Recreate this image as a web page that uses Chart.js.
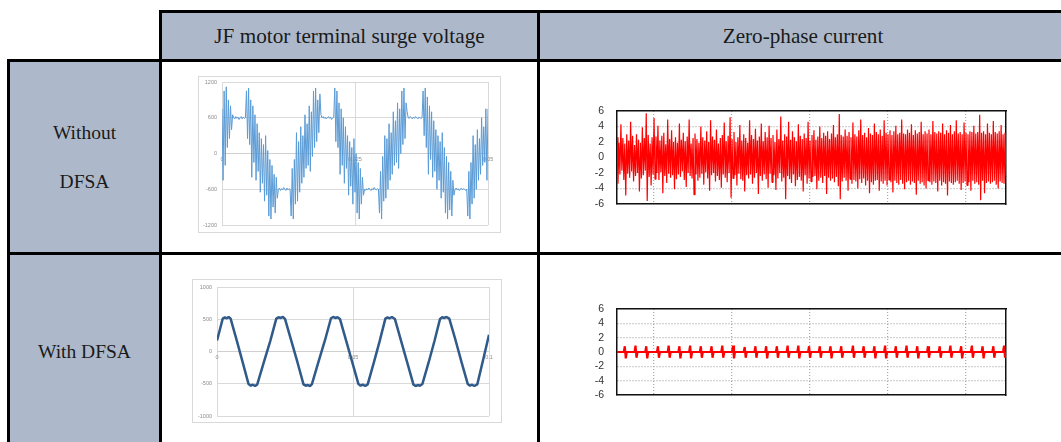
<!DOCTYPE html>
<html><head><meta charset="utf-8">
<script src="https://cdn.jsdelivr.net/npm/chart.js@4.4.0/dist/chart.umd.min.js"></script>
<style>
html,body{margin:0;padding:0;background:#fff;width:1061px;height:442px;overflow:hidden;position:relative;}
.cell{position:absolute;background:#adb9ca;}
.ln{position:absolute;background:#000;}
.txt{position:absolute;font-family:"Liberation Serif","Times New Roman",serif;color:#1a1a1a;text-align:center;white-space:nowrap;}
.frame{position:absolute;border:1px solid #d9d9d9;box-sizing:border-box;}
canvas{position:absolute;}
</style></head><body>
<div class="cell" style="left:160px;top:11px;width:906px;height:49px"></div>
<div class="cell" style="left:8px;top:60px;width:152px;height:400px"></div>
<div class="ln" style="left:159px;top:10px;width:907px;height:3px"></div>
<div class="ln" style="left:7px;top:59px;width:1059px;height:3px"></div>
<div class="ln" style="left:7px;top:252px;width:1059px;height:3px"></div>
<div class="ln" style="left:7px;top:59px;width:3px;height:400px"></div>
<div class="ln" style="left:159px;top:10px;width:3px;height:450px"></div>
<div class="ln" style="left:537px;top:10px;width:3px;height:450px"></div>

<div class="txt" style="left:162px;width:375px;top:23px;font-size:21.2px;line-height:26px">JF motor terminal surge voltage</div>
<div class="txt" style="left:540px;width:526px;top:23px;font-size:21.2px;line-height:26px">Zero-phase current</div>
<div class="txt" style="left:10px;width:149px;top:120px;font-size:19.5px;line-height:26px">Without</div>
<div class="txt" style="left:10px;width:149px;top:169px;font-size:19.5px;line-height:26px">DFSA</div>
<div class="txt" style="left:10px;width:149px;top:339px;font-size:19.5px;line-height:26px">With DFSA</div>

<div class="frame" style="left:198px;top:76px;width:303px;height:157px"></div>
<canvas id="cA" width="302" height="156" style="left:198px;top:76px"></canvas>
<canvas id="cD" width="422" height="106" style="left:590px;top:104px"></canvas>
<div class="frame" style="left:192px;top:279px;width:310px;height:144px"></div>
<canvas id="cC" width="309" height="143" style="left:192px;top:279px"></canvas>
<canvas id="cE" width="422" height="99" style="left:590px;top:302px"></canvas>

<script>
// ---------- Data ----------
// Surge voltage without DFSA (V), sampled every 0.2 ms from 0 to 0.05 s
const surgeStepS = 0.0002;
const surgeVolts = [
  750,-450,1050,-200,1120,100,900,250,800,400,650,
  600,580,620,590,610,570,600,620,580,610,590,600,
  1050,250,1100,150,900,-400,800,-150,650,-450,500,-300,350,-650,250,-500,150,-800,300,-700,50,-1050,-100,-1100,-200,-900,-350,-1000,-400,-750,
  -600,-580,-620,-590,-610,-570,-600,-620,-580,-610,-590,-600,
  -1050,-250,-1100,-100,-850,350,-800,200,-650,450,-500,300,-400,650,-250,500,-200,800,-300,700,-50,1050,100,1100,200,900,350,1000,650,
  600,620,590,610,580,600,620,590,610,570,600,610,
  1100,200,1050,100,850,-350,750,-200,600,-500,450,-250,300,-700,200,-550,100,-850,250,-650,0,-1000,-150,-1100,-250,-850,-400,-700,
  -600,-620,-590,-610,-580,-600,-620,-590,-610,-570,-600,-610,-590,-600,
  -1000,-300,-1100,-50,-800,300,-750,250,-600,500,-450,350,-350,700,-200,550,-150,850,-250,750,0,1050,150,1100,250,850,700,
  600,590,620,600,580,610,590,620,600,580,610,600,590,600,
  1050,300,1100,100,950,-350,800,-100,700,-400,550,-300,400,-600,300,-450,200,-750,350,-650,100,-1000,-50,-1100,-150,-950,-300,-1050,-450,-700,
  -600,-580,-610,-590,-620,-600,-580,-610,-590,-600,-620,-600,
  -1050,-300,-1100,-150,-850,300,-750,150,-600,400,-450,250,-350,600,-200,450,-150,750,-450,750
];

// Surge voltage with DFSA (V): time (s) / voltage pairs
const dfsaTimes = [
  0,0.0010,0.0021,0.0029,0.0036,0.0043,0.0050,
  0.0072,0.0094,0.0116,0.0124,0.0132,0.0140,0.0148,
  0.0172,0.0196,0.0218,0.0226,0.0234,0.0242,0.0250,
  0.0273,0.0296,0.0318,0.0326,0.0334,0.0342,0.0349,
  0.0373,0.0397,0.0419,0.0427,0.0435,0.0443,0.0452,
  0.0475,0.0498,0.0520,0.0528,0.0536,0.0545,0.0554,
  0.0577,0.0598,0.0619,0.0627,0.0635,0.0643,0.0654,
  0.0677,0.0700,0.0722,0.0730,0.0738,0.0746,0.0755,
  0.0778,0.0800,0.0820,0.0828,0.0836,0.0844,0.0854,
  0.0877,0.0899,0.0922,0.0930,0.0938,0.0946,0.0957,
  0.0980,0.1000
];
const dfsaVolts = [
  170,330,510,530,515,535,510,
  180,-160,-505,-530,-515,-535,-510,
  -170,165,510,530,520,535,505,
  170,-170,-510,-530,-520,-535,-505,
  -160,175,515,535,520,530,505,
  165,-175,-505,-530,-515,-535,-510,
  -165,160,510,530,515,535,505,
  160,-180,-510,-535,-520,-530,-505,
  -170,170,505,530,520,535,510,
  175,-165,-505,-530,-515,-535,-510,
  -100,260
];

// Zero-phase current without DFSA (A), one value per sample
const zpcSampleStart = 42;
const zpcNoDfsa = [
  2.6,-3.4,1.9,-2.2,4.3,-1.7,2.5,-2.9,1.8,-4.9,3.0,-2.1,2.2,-2.6,4.6,-1.8,2.8,-3.1,1.6,-2.4,
  3.0,-2.0,2.3,-4.4,1.9,-2.7,3.9,-2.3,2.5,-1.7,5.7,-5.6,2.9,-2.5,1.8,-3.6,2.6,-2.2,5.1,-2.8,
  2.7,-2.0,4.1,-2.9,2.2,-1.9,2.8,-4.6,3.2,-2.4,1.7,-3.3,4.9,-2.1,2.4,-2.6,3.5,-2.3,2.0,-4.1,
  2.6,-2.8,1.9,-2.2,4.4,-2.5,2.3,-1.8,3.2,-2.9,2.1,-3.8,2.7,-2.0,4.9,-2.4,1.8,-2.7,2.5,-4.8,
  3.1,-2.2,2.4,-3.0,1.9,-2.6,4.0,-2.1,2.6,-3.5,2.2,-1.9,3.4,-2.7,2.0,-4.3,4.8,-2.3,2.7,-2.0,
  2.3,-3.1,3.6,-2.4,1.8,-2.9,2.5,-3.9,2.9,-2.2,4.5,-2.6,2.1,-3.2,2.8,-2.0,5.2,-5.2,2.4,-2.7,
  3.3,-2.3,2.0,-3.6,2.6,-2.1,4.2,-2.8,2.2,-3.0,3.0,-4.4,2.5,-2.3,1.9,-2.7,4.8,-2.2,2.9,-3.4,
  2.4,-2.6,3.7,-2.0,2.2,-4.7,2.7,-2.4,4.4,-3.0,2.1,-2.2,3.3,-2.8,2.6,-3.9,4.1,-2.1,2.5,-3.2,
  2.9,-2.3,2.0,-4.2,3.6,-2.7,2.4,-2.0,5.3,-3.1,2.2,-2.6,3.0,-5.4,2.7,-2.4,4.6,-2.8,2.3,-3.3,
  3.4,-2.2,2.6,-3.7,2.1,-2.9,4.3,-2.5,2.8,-3.0,2.4,-4.4,3.1,-2.3,2.5,-3.4,4.6,-2.7,2.2,-3.1,
  2.9,-2.5,3.5,-2.4,2.3,-4.1,2.7,-3.0,4.0,-2.6,2.5,-3.3,3.2,-2.4,2.8,-4.7,3.4,-2.6,2.4,-3.0,
  3.1,-2.7,4.2,-3.2,2.6,-2.5,3.0,-3.7,5.6,-5.4,2.9,-3.1,2.7,-2.6,3.6,-3.0,2.8,-4.3,3.3,-2.8,
  2.6,-3.4,4.5,-2.9,3.0,-3.1,2.7,-4.0,3.5,-2.8,4.9,-3.3,2.9,-2.7,3.2,-3.6,2.6,-3.0,3.8,-4.6,
  3.1,-3.2,2.9,-3.5,4.4,-3.0,3.3,-2.9,3.0,-4.3,3.6,-3.1,2.8,-3.4,4.8,-3.0,3.2,-3.6,3.0,-2.9,
  3.5,-3.2,2.9,-4.5,3.4,-3.0,4.1,-3.3,3.0,-3.5,3.2,-2.9,4.9,-3.4,3.1,-4.1,3.0,-3.2,3.6,-3.0,
  3.2,-3.5,4.3,-3.1,2.9,-3.3,3.5,-4.8,3.1,-3.0,3.3,-3.4,4.6,-3.2,3.0,-3.6,3.4,-4.0,3.1,-3.0,
  3.6,-3.2,3.0,-3.5,4.7,-3.1,3.3,-3.3,3.1,-4.4,3.4,-3.0,3.2,-3.6,4.4,-3.2,3.0,-3.4,3.5,-4.9,
  3.2,-3.1,4.2,-3.3,3.0,-3.5,3.4,-3.2,4.8,-3.0,3.1,-3.4,3.3,-4.2,3.0,-3.3,4.5,-3.1,3.2,-3.6,
  3.0,-3.2,3.4,-4.3,3.3,-3.0,4.1,-3.4,3.1,-3.2,3.3,-3.5,5.5,-5.5,3.2,-3.0,3.4,-4.6,3.0,-3.3,
  4.4,-3.1,3.2,-3.4,3.0,-3.2,4.7,-3.0,3.3,-3.5,3.1,-4.0,3.4,-3.1,4.2,-3.3,3.0,-3.4,3.2,-2.4
];

// Zero-phase current with DFSA (A): baseline 0 with short pulses
const zpcPulseIdx  = [8,19,30,42,53,64,75,86,97,108,119,131,142,153,164,175,186,197,208,219,230,242,253,264,275,286,297,308,319,331,342,353,364,375,386,397];
const zpcPulseHigh = [0.8,0.9,0.8,0.8,0.9,0.8,0.9,0.8,0.8,0.9,0.9,0.7,0.8,0.8,0.8,0.9,0.9,0.8,0.8,0.8,0.8,0.9,0.8,0.8,0.9,0.8,0.9,0.8,0.8,0.8,0.9,0.8,0.9,0.8,0.8,0.9];
const zpcPulseLow  = [-0.9,-0.8,-0.9,-0.8,-0.8,-0.9,-0.9,-0.8,-0.8,-0.8,-0.9,-0.8,-0.8,-0.9,-0.8,-0.8,-0.9,-0.8,-0.8,-0.9,-0.8,-0.8,-0.8,-0.9,-0.9,-0.8,-0.8,-0.9,-0.8,-0.8,-0.8,-0.9,-0.8,-0.9,-0.8,-0.8];
const zpcBaseline = 0;
const zpcSampleCount = 400;
const zpcYTicks = [-6, -4, -2, 0, 2, 4, 6];
const zpcGridX = [80, 160, 240, 320, 400];

// ---------- Build datasets ----------
const surgePts = surgeVolts.map((v, i) => ({x: i * surgeStepS, y: v}));
const dfsaPts = dfsaTimes.map((t, i) => ({x: t, y: dfsaVolts[i]}));
const zpcNoPts = zpcNoDfsa.map((v, i) => ({x: zpcSampleStart + i, y: v}));
const zpcWithVals = new Array(zpcSampleCount).fill(zpcBaseline);
zpcPulseIdx.forEach((p, k) => { zpcWithVals[p] = zpcPulseHigh[k]; zpcWithVals[p + 1] = zpcPulseLow[k]; });
const zpcWithPts = zpcWithVals.map((v, i) => ({x: zpcSampleStart + i, y: v}));

const excelFont = {family: '"Liberation Sans", Arial, sans-serif', size: 5.5};
const plotFont = {family: '"Liberation Sans", Arial, sans-serif', size: 10.5};
const noPad = s => { s.paddingTop = 0; s.paddingBottom = 0; s.paddingLeft = 0; s.paddingRight = 0; };

function excelChart(id, pts, color, width, xMax, xStep, yMax, yStep, pad, yW) {
  return new Chart(document.getElementById(id), {
    type: 'line',
    data: {datasets: [{data: pts, borderColor: color, borderWidth: width, borderJoinStyle: 'bevel', pointRadius: 0, tension: 0, fill: false}]},
    options: {
      responsive: false, animation: false, devicePixelRatio: 1,
      layout: {padding: pad},
      plugins: {legend: {display: false}, tooltip: {enabled: false}},
      scales: {
        x: {type: 'linear', min: 0, max: xMax, position: {y: 0},
            afterFit: s => { s.height = 0; noPad(s); },
            ticks: {stepSize: xStep, autoSkip: false, font: excelFont, color: '#8c8c8c', padding: 3, maxRotation: 0, callback: v => String(+v.toFixed(4))},
            grid: {color: '#d9d9d9', drawTicks: false, lineWidth: 1},
            border: {color: '#d0d0d0', width: 1}},
        y: {type: 'linear', min: -yMax, max: yMax,
            afterFit: s => { s.width = yW; noPad(s); },
            ticks: {stepSize: yStep, autoSkip: false, font: excelFont, color: '#8c8c8c', padding: 5, callback: v => String(v)},
            grid: {color: '#d9d9d9', drawTicks: false, lineWidth: 1},
            border: {display: false}}
      }
    }
  });
}

function currentChart(id, pts, color, width) {
  return new Chart(document.getElementById(id), {
    type: 'line',
    data: {datasets: [{data: pts, borderColor: color, borderWidth: width, borderJoinStyle: 'bevel', pointRadius: 0, tension: 0, fill: false}]},
    options: {
      responsive: false, animation: false, devicePixelRatio: 1,
      layout: {padding: {left: 0, right: 6, top: 7, bottom: 6}},
      plugins: {legend: {display: false}, tooltip: {enabled: false}},
      scales: {
        x: {type: 'linear', min: 42, max: 441, position: 'bottom',
            afterFit: s => { s.height = 0; noPad(s); },
            afterBuildTicks: s => { s.ticks = zpcGridX.map(v => ({value: v})); },
            ticks: {display: false, autoSkip: false},
            grid: {color: '#a8a8a8', drawTicks: false, lineWidth: 1.2},
            border: {color: '#111', width: 1.5, dash: [1, 2]}},
        x2: {type: 'linear', min: 0, max: 1, position: 'top',
            afterFit: s => { s.height = 0; noPad(s); },
            ticks: {display: false}, grid: {display: false, drawTicks: false},
            border: {color: '#111', width: 1.5}},
        y: {type: 'linear', min: -6, max: 6,
            afterFit: s => { s.width = 27; noPad(s); },
            afterBuildTicks: s => { s.ticks = zpcYTicks.map(v => ({value: v})); },
            ticks: {font: plotFont, color: '#333', padding: 13, autoSkip: false, callback: v => String(v)},
            grid: {color: '#a8a8a8', drawTicks: false, lineWidth: 1.2},
            border: {color: '#111', width: 1.5, dash: [1, 2]}},
        y2: {type: 'linear', min: 0, max: 1, position: 'right',
            afterFit: s => { s.width = 0; noPad(s); },
            ticks: {display: false}, grid: {display: false, drawTicks: false},
            border: {color: '#111', width: 1.5}}
      }
    }
  });
}

excelChart('cA', surgePts, '#5b9bd5', 1, 0.05, 0.025, 1200, 600, {left: 0, right: 12, top: 6, bottom: 7}, 24);
excelChart('cC', dfsaPts, '#2f5a89', 2.5, 0.1, 0.05, 1000, 500, {left: 0, right: 12, top: 8, bottom: 6}, 25);
currentChart('cD', zpcNoPts, '#ff0000', 1.2);
currentChart('cE', zpcWithPts, '#ff0000', 2.2);
</script>
</body></html>
